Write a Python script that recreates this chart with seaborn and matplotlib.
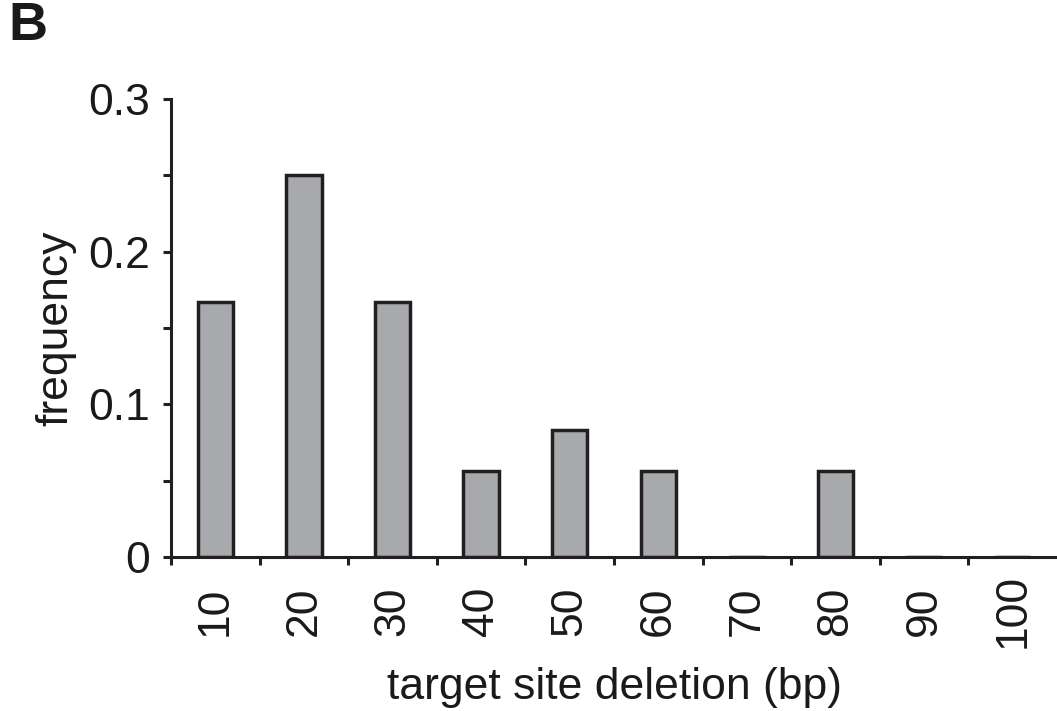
import matplotlib
matplotlib.use("Agg")
import matplotlib.pyplot as plt
import seaborn as sns
import pandas as pd
import numpy as np
from matplotlib.ticker import FixedLocator

# Data
categories = ["10", "20", "30", "40", "50", "60", "70", "80", "90", "100"]
frequency = [0.167, 0.25, 0.167, 0.056, 0.083, 0.056, 0.0, 0.056, 0.0, 0.0]
y_major = [0, 0.1, 0.2, 0.3]
y_major_labels = ["0", "0.1", "0.2", "0.3"]
y_minor = [0.05, 0.15, 0.25]

df = pd.DataFrame({"deletion": categories, "frequency": frequency})

sns.set_theme(style="ticks")
plt.rcParams["font.family"] = ["Liberation Sans", "DejaVu Sans"]

fig = plt.figure(figsize=(10.57, 7.11), dpi=100)
ax = fig.add_axes([0.1618, 0.2166, 0.8382, 0.6442])

ink = "#231f20"
sns.barplot(data=df, x="deletion", y="frequency", order=categories,
            color="#a7a9ac", saturation=1, edgecolor=ink, linewidth=2.5,
            width=0.4, ax=ax)

ax.set_xlim(-0.5, 9.5)
ax.set_ylim(0, 0.3)

for s in ["top", "right"]:
    ax.spines[s].set_visible(False)
for s in ["left", "bottom"]:
    ax.spines[s].set_linewidth(2.2)
    ax.spines[s].set_color(ink)

# y ticks
ax.set_yticks(y_major)
ax.set_yticklabels(y_major_labels)
ax.yaxis.set_minor_locator(FixedLocator(y_minor))
ax.tick_params(axis="y", which="both", direction="out", length=6, width=2.2,
               color=ink, labelsize=32, pad=9, labelcolor="#1a1a1a")

# x ticks: labels at bar centers, tick marks at boundaries
ax.set_xticks(range(len(categories)))
ax.set_xticklabels(categories, rotation=90, va="center", ha="center")
ax.xaxis.set_minor_locator(FixedLocator(np.arange(-0.5, 9.0, 1.0)))
ax.tick_params(axis="x", which="major", length=0, labelsize=32, pad=39,
               labelcolor="#1a1a1a")
ax.tick_params(axis="x", which="minor", direction="out", length=6, width=2.2,
               color=ink)

ax.set_xlabel("target site deletion (bp)", fontsize=32, color="#1a1a1a", va="center")
ax.xaxis.set_label_coords(0.5, -0.286)
ax.set_ylabel("frequency", fontsize=32, color="#1a1a1a", va="center")
ax.yaxis.set_label_coords(-0.1298, 0.5)

fig.text(0.008, 0.998, "B", fontsize=39, fontweight="bold", color="#1a1a1a",
         ha="left", va="top")

fig.savefig("out.png", dpi=100)
